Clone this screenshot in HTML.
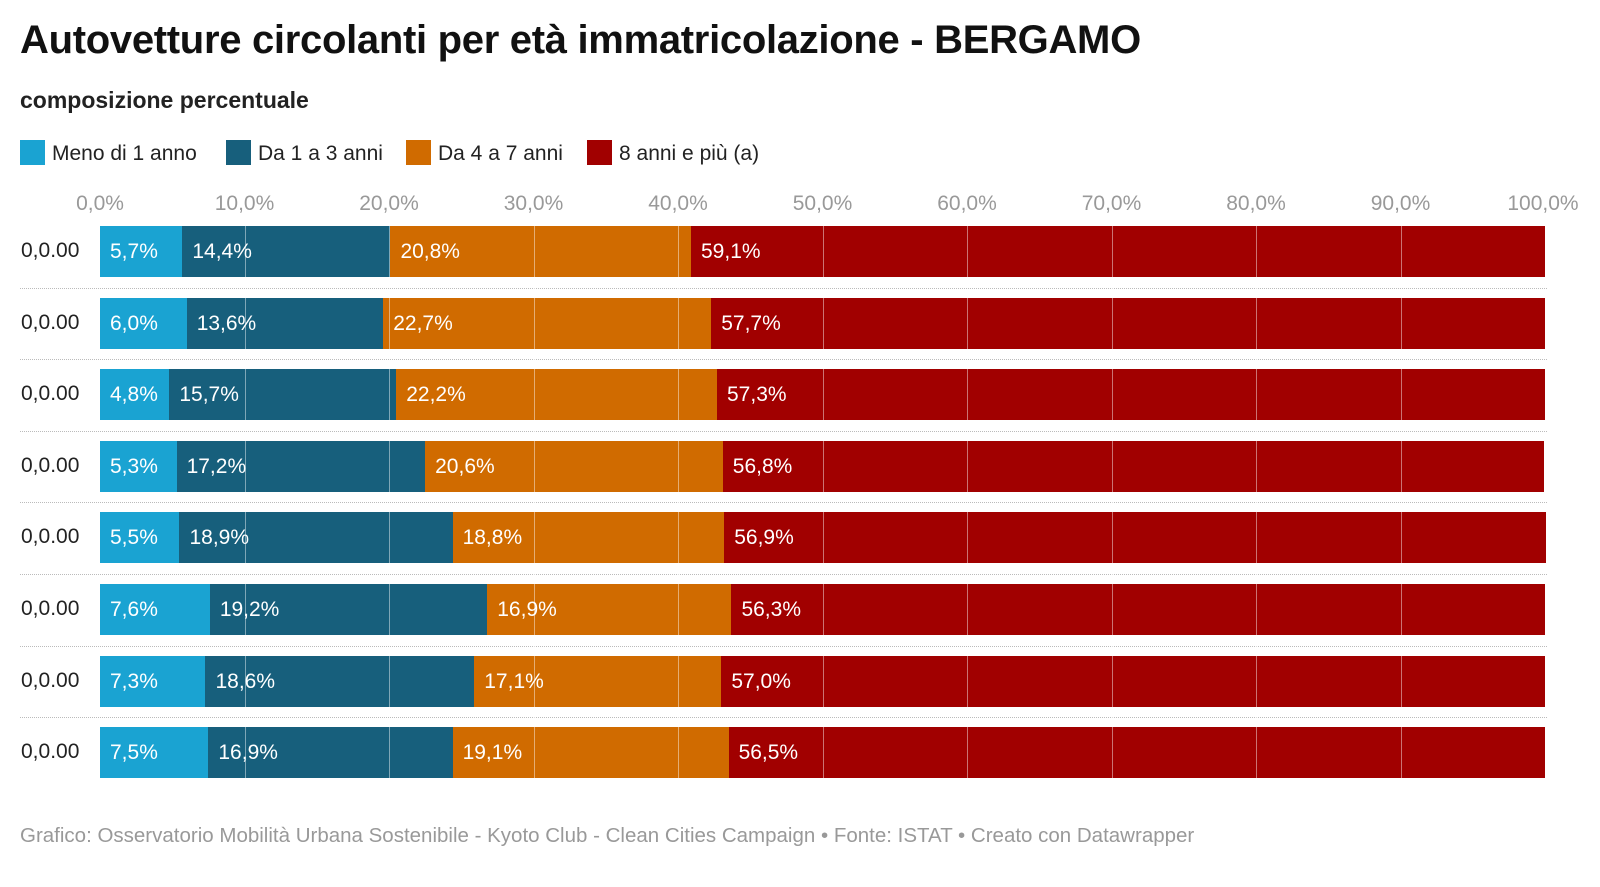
<!DOCTYPE html>
<html><head><meta charset="utf-8"><style>
body{margin:0;width:1600px;height:887px;background:#fff;font-family:"Liberation Sans",sans-serif;position:relative;overflow:hidden}
.a{position:absolute;white-space:nowrap}
.t{left:20px;top:18px;font-size:40px;font-weight:bold;color:#111;letter-spacing:-0.3px}
.s{left:20px;top:87px;font-size:23px;font-weight:bold;color:#222}
.lg{top:140px;font-size:21px;color:#222}
.sw{display:inline-block;width:25px;height:25px;vertical-align:-5px;margin-right:7px}
.ax{top:192px;font-size:21px;color:#999;transform:translateX(-50%)}
.rl{left:21px;font-size:21px;color:#222}
.seg{position:absolute;height:51px;color:#fff;font-size:21px;line-height:51px;padding-left:10px;box-sizing:border-box;overflow:visible;white-space:nowrap}
.g{position:absolute;top:226px;height:552px;width:1px;background:rgba(255,255,255,0.45)}
.sep{position:absolute;left:20px;width:1527px;border-top:1px dotted #bbb}
.f{left:20px;top:824px;font-size:20.5px;color:#999}
</style></head><body>
<div class="a t">Autovetture circolanti per età immatricolazione - BERGAMO</div>
<div class="a s">composizione percentuale</div>
<div class="a lg" style="left:20px"><span class="sw" style="background:#1aa3d2"></span>Meno di 1 anno</div>
<div class="a lg" style="left:226px"><span class="sw" style="background:#175f7c"></span>Da 1 a 3 anni</div>
<div class="a lg" style="left:406px"><span class="sw" style="background:#d06b00"></span>Da 4 a 7 anni</div>
<div class="a lg" style="left:587px"><span class="sw" style="background:#a10000"></span>8 anni e più (a)</div>
<div id="c"></div>
<div class="a f">Grafico: Osservatorio Mobilità Urbana Sostenibile - Kyoto Club - Clean Cities Campaign • Fonte: ISTAT • Creato con Datawrapper</div>
<script>
var d=[[5.7,14.4,20.8,59.1],[6.0,13.6,22.7,57.7],[4.8,15.7,22.2,57.3],[5.3,17.2,20.6,56.8],[5.5,18.9,18.8,56.9],[7.6,19.2,16.9,56.3],[7.3,18.6,17.1,57.0],[7.5,16.9,19.1,56.5]];
var col=["#1aa3d2","#175f7c","#d06b00","#a10000"];
var x0=100,w=1445,h="";
for(var i=0;i<=10;i++){var x=x0+w*i/10;h+='<div class="a ax" style="left:'+(x+(i==10?-2:0))+'px">'+(i*10)+',0%</div>';}
d.forEach(function(r,j){var y=226+j*71.6,acc=0;
h+='<div class="a rl" style="top:'+(y+13)+'px">0,0.00</div>';
if(j>0)h+='<div class="sep" style="top:'+(y-10)+'px"></div>';
r.forEach(function(v,k){var l=x0+w*acc/100,ww=w*v/100;acc+=v;
h+='<div class="seg" style="left:'+l+'px;top:'+y+'px;width:'+ww+'px;background:'+col[k]+'">'+v.toFixed(1).replace('.',',')+'%</div>';});});
for(var i=1;i<=9;i++)h+='<div class="g" style="left:'+(x0+w*i/10)+'px"></div>';
document.getElementById('c').innerHTML=h;
</script>
</body></html>
